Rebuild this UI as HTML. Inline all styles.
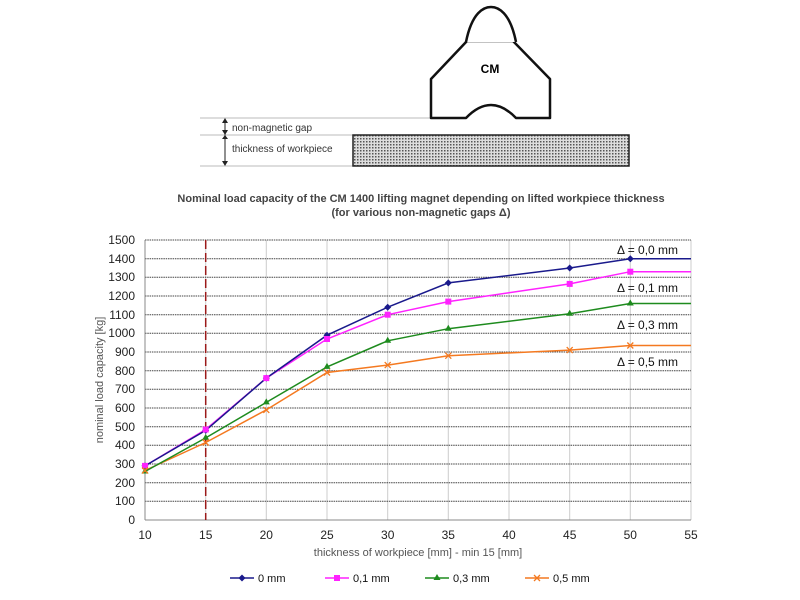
<!DOCTYPE html>
<html><head><meta charset="utf-8"><style>body{margin:0;background:#fff}svg{display:block}</style></head><body>
<svg width="800" height="600" xmlns="http://www.w3.org/2000/svg" font-family="Liberation Sans, sans-serif">
<defs><pattern id="h" width="3" height="3" patternUnits="userSpaceOnUse"><rect width="3" height="3" fill="#ddd"/><rect width="1.5" height="1.5" fill="#555"/></pattern></defs>
<line x1="200" y1="118" x2="431" y2="118" stroke="#bbb"/>
<line x1="200" y1="135" x2="354" y2="135" stroke="#bbb"/>
<line x1="200" y1="166" x2="354" y2="166" stroke="#bbb"/>
<line x1="225" y1="119" x2="225" y2="165" stroke="#222"/>
<path d="M222 123 L225 118 L228 123 Z M222 130 L225 135 L228 130 Z M222 139 L225 135 L228 139 Z M222 161 L225 166 L228 161Z" fill="#222"/>
<text x="232" y="131" font-size="10" fill="#333">non-magnetic gap</text>
<text x="232" y="152" font-size="10" fill="#333">thickness of workpiece</text>
<rect x="353" y="135" width="276" height="31" fill="url(#h)" stroke="#222" stroke-width="1.5"/>
<path d="M431 118 L431 79 L467 41 L513 41 L550 79 L550 118 L516 118 Q491 92 466 118 Z" fill="#fff" stroke="#111" stroke-width="2.5" stroke-linejoin="round"/>
<path d="M466 42 C472 12 484 7 491 7 C498 7 510 12 516 42" fill="#fff" stroke="#111" stroke-width="2.5"/>
<text x="490" y="73" font-size="12" font-weight="bold" text-anchor="middle">CM</text>
<text x="421" y="202" font-size="11" font-weight="bold" fill="#444" text-anchor="middle">Nominal load capacity of the CM 1400 lifting magnet depending on lifted workpiece thickness</text>
<text x="421" y="216" font-size="11" font-weight="bold" fill="#444" text-anchor="middle">(for various non-magnetic gaps Δ)</text>
<g stroke="#ccc"><line x1="205.7" y1="240" x2="205.7" y2="520"/><line x1="266.3" y1="240" x2="266.3" y2="520"/><line x1="327" y1="240" x2="327" y2="520"/><line x1="387.7" y1="240" x2="387.7" y2="520"/><line x1="448.3" y1="240" x2="448.3" y2="520"/><line x1="509" y1="240" x2="509" y2="520"/><line x1="569.7" y1="240" x2="569.7" y2="520"/><line x1="630.3" y1="240" x2="630.3" y2="520"/><line x1="691" y1="240" x2="691" y2="520"/></g>
<g stroke="#444" stroke-dasharray="1.5,0.8">
<line x1="145" y1="240" x2="691" y2="240"/><line x1="145" y1="258.7" x2="691" y2="258.7"/><line x1="145" y1="277.3" x2="691" y2="277.3"/><line x1="145" y1="296" x2="691" y2="296"/><line x1="145" y1="314.7" x2="691" y2="314.7"/><line x1="145" y1="333.3" x2="691" y2="333.3"/><line x1="145" y1="352" x2="691" y2="352"/><line x1="145" y1="370.7" x2="691" y2="370.7"/><line x1="145" y1="389.3" x2="691" y2="389.3"/><line x1="145" y1="408" x2="691" y2="408"/><line x1="145" y1="426.7" x2="691" y2="426.7"/><line x1="145" y1="445.3" x2="691" y2="445.3"/><line x1="145" y1="464" x2="691" y2="464"/><line x1="145" y1="482.7" x2="691" y2="482.7"/><line x1="145" y1="501.3" x2="691" y2="501.3"/></g>
<line x1="145" y1="520" x2="691" y2="520" stroke="#888"/>
<line x1="145" y1="240" x2="145" y2="520" stroke="#888"/>
<line x1="205.7" y1="240" x2="205.7" y2="520" stroke="#9b1a1a" stroke-width="1.5" stroke-dasharray="9,4"/>
<g font-size="12" fill="#222" text-anchor="end">
<text x="135" y="244">1500</text><text x="135" y="263">1400</text><text x="135" y="281">1300</text><text x="135" y="300">1200</text><text x="135" y="319">1100</text><text x="135" y="337">1000</text><text x="135" y="356">900</text><text x="135" y="375">800</text><text x="135" y="393">700</text><text x="135" y="412">600</text><text x="135" y="431">500</text><text x="135" y="449">400</text><text x="135" y="468">300</text><text x="135" y="487">200</text><text x="135" y="505">100</text><text x="135" y="524">0</text></g>
<g font-size="12" fill="#222" text-anchor="middle">
<text x="145" y="539">10</text><text x="205.7" y="539">15</text><text x="266.3" y="539">20</text><text x="327" y="539">25</text><text x="387.7" y="539">30</text><text x="448.3" y="539">35</text><text x="509" y="539">40</text><text x="569.7" y="539">45</text><text x="630.3" y="539">50</text><text x="691" y="539">55</text></g>
<text x="418" y="556" font-size="11" fill="#555" text-anchor="middle">thickness of workpiece [mm] - min 15 [mm]</text>
<text transform="translate(103,380) rotate(-90)" font-size="11" fill="#555" text-anchor="middle">nominal load capacity [kg]</text>
<polyline fill="none" stroke="#f47920" stroke-width="1.5" points="145,470.5 205.7,442.5 266.3,409.9 327,372.5 387.7,365.1 448.3,355.7 569.7,350.1 630.3,345.5 691,345.5"/>
<polyline fill="none" stroke="#1e8b1e" stroke-width="1.5" points="145,471.5 205.7,437.9 266.3,402.4 327,366.9 387.7,340.8 448.3,328.7 569.7,313.7 630.3,303.5 691,303.5"/>
<polyline fill="none" stroke="#ff22ff" stroke-width="1.5" points="145,465.9 205.7,429.5 266.3,378.1 327,339 387.7,314.7 448.3,301.6 569.7,283.9 630.3,271.7 691,271.7"/>
<polyline fill="none" stroke="#1a1a8c" stroke-width="1.5" points="145,465.9 205.7,430.4 266.3,378.1 327,335.2 387.7,307.2 448.3,282.9 569.7,268 630.3,258.7 691,258.7"/>
<g fill="#1a1a8c"><path d="M145 462.4l3.5 3.5-3.5 3.5-3.5-3.5z"/><path d="M205.7 426.9l3.5 3.5-3.5 3.5-3.5-3.5z"/><path d="M266.3 374.6l3.5 3.5-3.5 3.5-3.5-3.5z"/><path d="M327 331.7l3.5 3.5-3.5 3.5-3.5-3.5z"/><path d="M387.7 303.7l3.5 3.5-3.5 3.5-3.5-3.5z"/><path d="M448.3 279.4l3.5 3.5-3.5 3.5-3.5-3.5z"/><path d="M569.7 264.5l3.5 3.5-3.5 3.5-3.5-3.5z"/><path d="M630.3 255.2l3.5 3.5-3.5 3.5-3.5-3.5z"/></g>
<g fill="#ff22ff"><rect x="142" y="462.9" width="6" height="6"/><rect x="202.7" y="426.5" width="6" height="6"/><rect x="263.3" y="375.1" width="6" height="6"/><rect x="324" y="336" width="6" height="6"/><rect x="384.7" y="311.7" width="6" height="6"/><rect x="445.3" y="298.6" width="6" height="6"/><rect x="566.7" y="280.9" width="6" height="6"/><rect x="627.3" y="268.7" width="6" height="6"/></g>
<g fill="#1e8b1e"><path d="M145 467.5l3.5 6h-7z"/><path d="M205.7 433.9l3.5 6h-7z"/><path d="M266.3 398.4l3.5 6h-7z"/><path d="M327 362.9l3.5 6h-7z"/><path d="M387.7 336.8l3.5 6h-7z"/><path d="M448.3 324.7l3.5 6h-7z"/><path d="M569.7 309.7l3.5 6h-7z"/><path d="M630.3 299.5l3.5 6h-7z"/></g>
<g stroke="#f47920" stroke-width="1.3"><path d="M142 467.5l6 6m0-6l-6 6"/><path d="M202.7 439.5l6 6m0-6l-6 6"/><path d="M263.3 406.9l6 6m0-6l-6 6"/><path d="M324 369.5l6 6m0-6l-6 6"/><path d="M384.7 362.1l6 6m0-6l-6 6"/><path d="M445.3 352.7l6 6m0-6l-6 6"/><path d="M566.7 347.1l6 6m0-6l-6 6"/><path d="M627.3 342.5l6 6m0-6l-6 6"/></g>
<g font-size="12" fill="#111"><text x="617" y="254">Δ = 0,0 mm</text><text x="617" y="292">Δ = 0,1 mm</text><text x="617" y="329">Δ = 0,3 mm</text><text x="617" y="366">Δ = 0,5 mm</text></g>
<g font-size="11" fill="#111">
<line x1="230" y1="578" x2="254" y2="578" stroke="#1a1a8c" stroke-width="1.5"/><path d="M242 574.5l3.5 3.5-3.5 3.5-3.5-3.5z" fill="#1a1a8c"/><text x="258" y="582">0 mm</text>
<line x1="325" y1="578" x2="349" y2="578" stroke="#ff22ff" stroke-width="1.5"/><rect x="334" y="575" width="6" height="6" fill="#ff22ff"/><text x="353" y="582">0,1 mm</text>
<line x1="425" y1="578" x2="449" y2="578" stroke="#1e8b1e" stroke-width="1.5"/><path d="M437 574l3.5 6h-7z" fill="#1e8b1e"/><text x="453" y="582">0,3 mm</text>
<line x1="525" y1="578" x2="549" y2="578" stroke="#f47920" stroke-width="1.5"/><path d="M534 575l6 6m0-6l-6 6" stroke="#f47920" stroke-width="1.3"/><text x="553" y="582">0,5 mm</text></g>
</svg>
</body></html>
